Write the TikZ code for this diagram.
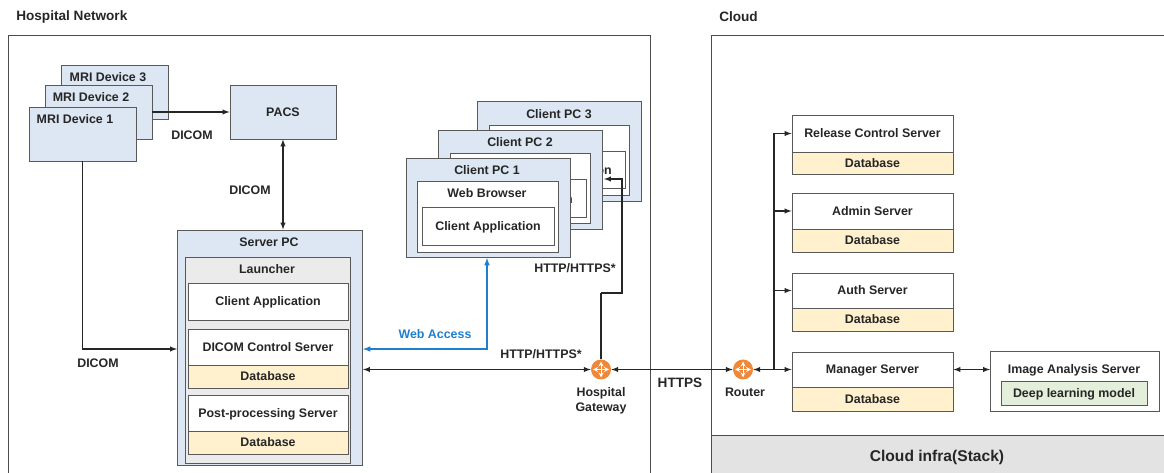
\documentclass[tikz,border=0pt]{standalone}
\usepackage{fontspec}
\setmainfont{Liberation Sans}
\definecolor{pcblue}{HTML}{DCE7F3}
\definecolor{dbyellow}{HTML}{FFF1CE}
\definecolor{dlgreen}{HTML}{E3EFDA}
\definecolor{webblue}{HTML}{1F7FCF}
\definecolor{gworange}{HTML}{F0883A}
\tikzset{
  sz/.style 2 args={minimum width=#1*0.75pt,minimum height=#2*0.75pt,inner sep=0pt},
  lbl/.style={font=\fontsize{9.3pt}{11.2pt}\selectfont\bfseries,text=black!85,inner sep=0pt,text height=6.6pt,text depth=0pt},
  bigl/.style={lbl,font=\fontsize{10.2pt}{12pt}\selectfont\bfseries},
  box/.style={draw=black!65,line width=0.7pt,lbl},
  bluebox/.style={box,fill=pcblue},
  whitebox/.style={box,fill=white},
  dbbox/.style={box,fill=dbyellow},
  grouter/.style={circle,fill=gworange,minimum size=15pt,inner sep=0pt},
  link/.style={line width=0.8pt,black!85},
  area/.style={black!70,line width=0.7pt},
}
\begin{document}
\begin{tikzpicture}[x=0.75pt,y=-0.75pt,>=latex]
  \useasboundingbox (0,0) rectangle (1164,473);
  % outer areas
  \node[bigl,anchor=west] (hosptitle) at (16,16) {Hospital Network};
  \node[bigl,anchor=west] (cloudtitle) at (719,17) {Cloud};
  \draw[area] (8,473) |- (650,35) -- (650,473);
  \fill[black!11] (711,435) rectangle (1164,473);
  \draw[area] (711,473) |- (1164,35);
  \draw[area] (711,435) -- (1164,435);
  \node[lbl,font=\fontsize{11.7pt}{14pt}\selectfont\bfseries] (infra) at (937,457) {Cloud infra(Stack)};

  % mri devices
  \node[bluebox,sz={107}{54}] (mri3) at (114.5,92) {};
  \node[lbl] (mri3t) at (108,77) {MRI Device 3};
  \node[bluebox,sz={107}{54}] (mri2) at (98.5,112) {};
  \node[lbl] (mri2t) at (91,97) {MRI Device 2};
  \node[bluebox,sz={107}{54}] (mri1) at (82.5,134) {};
  \node[lbl] (mri1t) at (75,119) {MRI Device 1};
  \node[bluebox,sz={106}{54}] (pacs) at (283,112) {PACS};

  % server pc
  \node[bluebox,sz={185}{235}] (srv) at (269.5,347.5) {};
  \node[lbl] (srvt) at (269,242) {Server PC};
  \node[box,fill=black!8,sz={165}{206}] (launcher) at (267.5,360) {};
  \node[lbl] (launchert) at (267,269) {Launcher};
  \node[whitebox,sz={160}{37}] (capp) at (268,301.5) {Client Application};
  \node[whitebox,sz={160}{36}] (dcs) at (268,347) {DICOM Control Server};
  \node[dbbox,sz={160}{23}] (dcsdb) at (268,376.5) {Database};
  \node[whitebox,sz={160}{36}] (pps) at (268,413) {Post-processing Server};
  \node[dbbox,sz={160}{23}] (ppsdb) at (268,442.5) {Database};

  % client pcs
  \node[bluebox,sz={164}{100}] (pc3) at (559,151) {};
  \node[lbl] (pc3t) at (559,114) {Client PC 3};
  \node[whitebox,sz={140}{70}] (web3) at (559,160) {};
  \node[whitebox,sz={132}{37}] (app3) at (559,169.5) {};
  \node[lbl,anchor=east] (app3t) at (612,170) {on};
  \node[bluebox,sz={164}{99}] (pc2) at (520,179.5) {};
  \node[lbl] (pc2t) at (520,142) {Client PC 2};
  \node[whitebox,sz={140}{70}] (web2) at (520,188) {};
  \node[whitebox,sz={132}{38}] (app2) at (520,198) {};
  \node[lbl,anchor=east] (app2t) at (573,199) {n};
  \node[bluebox,sz={164}{99}] (pc1) at (488,207.5) {};
  \node[lbl] (pc1t) at (487,170) {Client PC 1};
  \node[whitebox,sz={141}{71}] (web1) at (487.5,216.5) {};
  \node[lbl] (web1t) at (487,193) {Web Browser};
  \node[whitebox,sz={132}{38}] (app1) at (488,226) {Client Application};

  % routers
  \node[grouter] (gw) at (601,369.5) {};
  \node[lbl] (gwt) at (601,392) {Hospital};
  \node[lbl] (gwt2) at (601,407) {Gateway};
  \node[grouter] (rt) at (743,369.5) {};
  \node[lbl] (rtt) at (745,392) {Router};
  \foreach \r in {gw,rt} {
    \draw[white,line width=0.7pt,<->,>=stealth] ([xshift=-6pt]\r.center) -- ([xshift=6pt]\r.center);
    \draw[white,line width=0.7pt,<->,>=stealth] ([yshift=-6pt]\r.center) -- ([yshift=6pt]\r.center);
  }

  % cloud servers
  \node[whitebox,sz={161}{37}] (rel) at (872.5,133.5) {Release Control Server};
  \node[dbbox,sz={161}{22}] (reldb) at (872.5,163) {Database};
  \node[whitebox,sz={161}{36}] (adm) at (872.5,211) {Admin Server};
  \node[dbbox,sz={161}{23}] (admdb) at (872.5,240.5) {Database};
  \node[whitebox,sz={161}{35}] (auth) at (872.5,290.5) {Auth Server};
  \node[dbbox,sz={161}{23}] (authdb) at (872.5,319.5) {Database};
  \node[whitebox,sz={161}{35}] (mgr) at (872.5,369.5) {Manager Server};
  \node[dbbox,sz={161}{24}] (mgrdb) at (872.5,399) {Database};
  \node[whitebox,sz={169}{60}] (img) at (1074.5,381) {};
  \node[lbl] (imgt) at (1074,369) {Image Analysis Server};
  \node[box,fill=dlgreen,sz={146}{24}] (dlm) at (1074,393) {Deep learning model};

  % free ends
  \coordinate (mrie) at (152,112);
  \coordinate (srvw) at (177,349);
  \coordinate (webw) at (363,349);
  \coordinate (srve) at (363,369.5);
  \coordinate (webs) at (487,258);
  \coordinate (gwup) at (601,293);
  \coordinate (gwrt) at (622,293);
  \coordinate (pctip) at (604,179);
  \coordinate (bus) at (774,369.5);
  \coordinate (imgw) at (990,369.5);

  \begin{scope}[link]
    \draw[->] (mrie) to (pacs);
    \draw[<->] (pacs) to (pacs |- srv.north);
    \draw[->] (mri1.south) |- (srvw);
    \draw[<->] (srve) to (gw);
    \draw (gw) to (gwup);
    \draw[->] (gwup) -- (gwrt) |- (pctip);
    \draw[<->] (gw) to (rt);
    \draw[<->] (rt) to (mgr);
    \draw[->] (bus) |- (rel.west);
    \draw[->] (bus) |- (adm.west);
    \draw[->] (bus) |- (auth.west);
    \draw[<->] (mgr) to (imgw);
  \end{scope}
  \draw[<->,line width=0.9pt,webblue] (webs) |- (webw);

  % link labels
  \node[lbl] (d1) at (192,135) {DICOM};
  \node[lbl] (d2) at (250,190) {DICOM};
  \node[lbl] (d3) at (98,363) {DICOM};
  \node[lbl,text=webblue] (wa) at (435,334) {Web Access};
  \node[lbl] (h1) at (541,354) {HTTP/HTTPS*};
  \node[lbl] (h2) at (575,268) {HTTP/HTTPS*};
  \node[bigl] (h3) at (680,383) {HTTPS};
\end{tikzpicture}
\end{document}
